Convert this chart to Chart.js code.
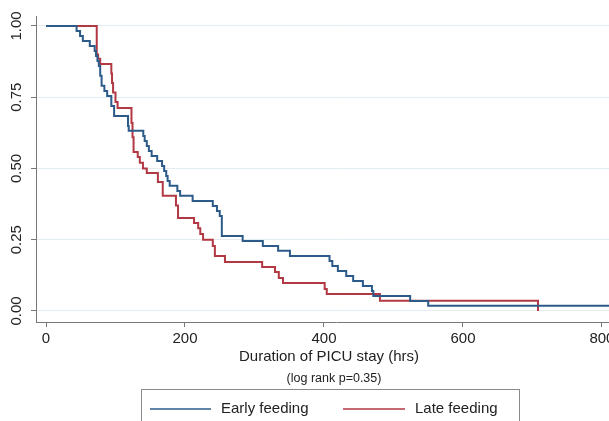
<!DOCTYPE html>
<html>
<head>
<meta charset="utf-8">
<script src="https://cdn.jsdelivr.net/npm/chart.js@4/dist/chart.umd.min.js"></script>
<style>
    html, body { margin: 0; padding: 0; background: #fff; overflow: hidden; }
    #wrap { width: 640px; height: 421px; }
</style>
</head>
<body>
<div id="wrap"><canvas id="km-chart" width="640" height="421"></canvas></div>
<script>
// Kaplan-Meier estimates (time in hrs, survival fraction)
const earlyTimes = [0, 44, 49, 53, 63, 70, 72, 74, 76, 78, 80, 84, 88, 94, 98, 118, 119, 140, 142, 145, 148, 152, 160, 167, 170, 173, 175, 178, 189, 193, 211, 240, 246, 250, 253, 283, 312, 334, 351, 408, 412, 420, 432, 442, 456, 469, 471, 524, 550, 849];
const earlySurv  = [1, 0.982, 0.965, 0.947, 0.93, 0.912, 0.895, 0.877, 0.86, 0.825, 0.79, 0.772, 0.754, 0.719, 0.684, 0.649, 0.632, 0.614, 0.596, 0.579, 0.561, 0.544, 0.526, 0.509, 0.491, 0.474, 0.456, 0.439, 0.421, 0.404, 0.386, 0.368, 0.351, 0.333, 0.263, 0.246, 0.228, 0.211, 0.193, 0.175, 0.158, 0.14, 0.123, 0.105, 0.088, 0.07, 0.053, 0.035, 0.018, 0.018];

const lateTimes = [0, 73, 75, 78, 94, 95, 96.5, 100, 103, 123, 124.5, 126, 132, 135, 139.5, 145, 161, 168, 187, 190, 213, 219, 222, 226, 240, 243, 257.5, 311, 329.5, 335, 341, 401, 404, 480.5, 708];
const lateSurv  = [1, 0.9, 0.885, 0.867, 0.833, 0.8, 0.767, 0.733, 0.712, 0.66, 0.61, 0.558, 0.54, 0.52, 0.5, 0.484, 0.453, 0.404, 0.37, 0.326, 0.309, 0.29, 0.27, 0.25, 0.228, 0.193, 0.172, 0.154, 0.137, 0.116, 0.098, 0.077, 0.06, 0.036, 0];

const seriesLabels = ['Early feeding', 'Late feeding'];
const xTicks = [0, 200, 400, 600, 800];
const yTicks = [0, 0.25, 0.5, 0.75, 1];
const yTickLabels = ['0.00', '0.25', '0.50', '0.75', '1.00'];
const xTitle = 'Duration of PICU stay (hrs)';
const xNote = '(log rank p=0.35)';

const FONT = '"Liberation Sans", Arial, Helvetica, sans-serif';
const BLUE = '#2c5b8a';
const RED = '#b23844';
const AXIS = '#777777';
const GRID = '#e3ecf1';

function toPoints(times, surv) {
    return times.map((t, i) => ({ x: t, y: surv[i] }));
}

// y labels (rotated), axis title, note and boxed legend
const extrasPlugin = {
    id: 'extras',
    afterDraw(chart) {
        const ctx = chart.ctx;
        const yScale = chart.scales.y;
        ctx.save();
        ctx.fillStyle = '#222';
        ctx.textAlign = 'center';
        ctx.textBaseline = 'middle';
        ctx.font = '15px ' + FONT;
        yTicks.forEach((v, i) => {
            ctx.save();
            ctx.translate(17, yScale.getPixelForValue(v));
            ctx.rotate(-Math.PI / 2);
            ctx.fillText(yTickLabels[i], 0, 0);
            ctx.restore();
        });

        ctx.fillText(xTitle, 329, 357);
        ctx.font = '12.5px ' + FONT;
        ctx.fillText(xNote, 334, 379);

        // legend
        ctx.strokeStyle = '#8a8a8a';
        ctx.lineWidth = 1;
        ctx.strokeRect(141.5, 389.5, 378, 45);
        const items = [
            { x0: 150, x1: 211, tx: 221 },
            { x0: 343, x1: 405, tx: 415 }
        ];
        ctx.font = '15px ' + FONT;
        ctx.textAlign = 'left';
        chart.data.datasets.forEach((ds, i) => {
            const it = items[i];
            ctx.strokeStyle = ds.borderColor;
            ctx.lineWidth = 1.5;
            ctx.beginPath();
            ctx.moveTo(it.x0, 409);
            ctx.lineTo(it.x1, 409);
            ctx.stroke();
            ctx.fillStyle = '#222';
            ctx.fillText(ds.label, it.tx, 409);
        });
        ctx.restore();
    }
};

const ctx = document.getElementById('km-chart').getContext('2d');
new Chart(ctx, {
    type: 'line',
    data: {
        datasets: [{
            label: seriesLabels[0],
            data: toPoints(earlyTimes, earlySurv),
            borderColor: BLUE,
            borderWidth: 2,
            stepped: 'before',
            pointRadius: 0,
            fill: false
        }, {
            label: seriesLabels[1],
            data: toPoints(lateTimes, lateSurv),
            borderColor: RED,
            borderWidth: 2,
            stepped: 'before',
            pointRadius: 0,
            fill: false
        }]
    },
    options: {
        responsive: false,
        animation: false,
        layout: { padding: { left: 31, top: 16, right: 4, bottom: 73 } },
        plugins: {
            legend: { display: false },
            tooltip: { enabled: false }
        },
        scales: {
            x: {
                type: 'linear',
                min: -14.4,
                max: 849,
                afterBuildTicks: (s) => { s.ticks = xTicks.map(v => ({ value: v })); },
                afterFit: (s) => { s.height = 26; },
                grid: { drawOnChartArea: false, tickLength: 5, tickColor: AXIS },
                border: { color: AXIS, width: 1 },
                ticks: {
                    font: { family: FONT, size: 15 },
                    color: '#222',
                    maxRotation: 0,
                    padding: 3
                }
            },
            y: {
                type: 'linear',
                min: -0.0386,
                max: 1.035,
                afterBuildTicks: (s) => { s.ticks = yTicks.map(v => ({ value: v })); },
                afterFit: (s) => { s.width = 5; },
                grid: { color: GRID, lineWidth: 1, tickLength: 5, tickColor: AXIS },
                border: { color: AXIS, width: 1 },
                ticks: { display: false }
            }
        }
    },
    plugins: [extrasPlugin]
});
</script>
</body>
</html>
